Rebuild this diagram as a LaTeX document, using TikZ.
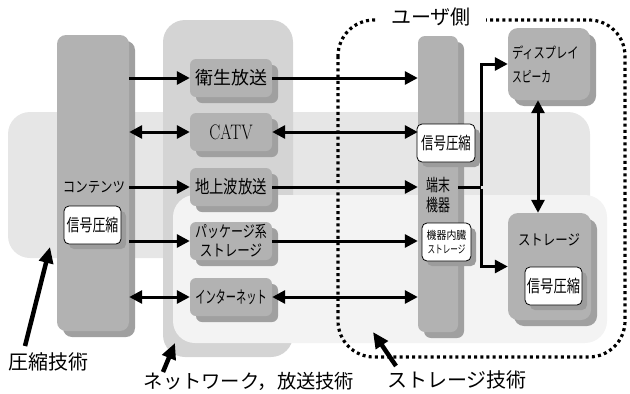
\documentclass[tikz,border=0pt]{standalone}
\usepackage{fontspec}
\usepackage{graphicx}
\newfontfamily\jp{Noto Sans CJK JP}
\usetikzlibrary{arrows.meta,shadows}
\definecolor{regA}{HTML}{E6E6E6}
\definecolor{regB}{HTML}{D4D4D4}
\definecolor{regC}{HTML}{F3F3F3}
\definecolor{boxfill}{HTML}{B2B2B2}
\definecolor{boxshadow}{HTML}{A0A0A0}
\definecolor{wshadow}{HTML}{9C9C9C}
\newcommand\hsq[2]{\scalebox{#1}[1]{#2}}
\newcommand\jpf[1]{\jp\fontsize{#1}{#1}\selectfont}
\tikzset{
  gbox/.style={fill=boxfill, rounded corners=6pt, inner sep=0pt,
    drop shadow={shadow xshift=6pt, shadow yshift=-6pt, fill=boxshadow, opacity=1}},
  gbar/.style={gbox, rounded corners=9pt},
  wbox/.style={fill=white, draw=black, line width=0.8pt, rounded corners=5pt, inner sep=0pt,
    drop shadow={shadow xshift=5pt, shadow yshift=-5pt, fill=wshadow, opacity=1}},
  arr/.style={line width=3pt, -{Triangle[length=13pt,width=13pt]}},
  darr/.style={line width=3pt, {Triangle[length=13pt,width=13pt]}-{Triangle[length=13pt,width=13pt]}},
  plain/.style={line width=3pt},
  bigarr/.style={line width=4.5pt, -{Triangle[length=16pt,width=14pt]}},
}
\begin{document}
\begin{tikzpicture}[x=1pt,y=-1pt]
\useasboundingbox (0,0) rectangle (630,394);
% background regions
\fill[regA, rounded corners=22pt] (8,112) rectangle (590,258);
\fill[regB, rounded corners=22pt] (163,20) rectangle (293,357);
\fill[regC, rounded corners=22pt] (173,195) rectangle (607,343);
% user side boundary
\draw[line width=3.2pt, dash pattern=on 3pt off 3.2pt, rounded corners=36pt] (338,20) rectangle (625,357);
\node[fill=white, inner xsep=15pt, inner ysep=2pt, font=\jpf{20}] (user) at (431,17) {ユーザ側};

% contents
\node[gbar, minimum width=72pt, minimum height=296pt] (cont) at (93,183) {};
\node[font=\jpf{15}, inner sep=0pt] (contlbl) at (94,187) {\hsq{0.83}{コンテンツ}};
\node[wbox, minimum width=57pt, minimum height=38pt, font=\jpf{17}] (c1) at (92.5,225) {\hsq{0.76}{信号圧縮}};

% network nodes
\node[gbox, minimum width=82pt, minimum height=38pt, font=\jpf{18}] (n1) at (231,78) {衛生放送};
\node[gbox, minimum width=82pt, minimum height=38pt, font=\fontsize{21}{21}\selectfont] (n2) at (231,132) {\hsq{0.78}{CATV}};
\node[gbox, minimum width=82pt, minimum height=38pt, font=\jpf{18}] (n3) at (231,187) {\hsq{0.8}{地上波放送}};
\node[gbox, minimum width=82pt, minimum height=38pt, font=\jp\fontsize{16}{19}\selectfont, align=center] (n4) at (231,241) {\hsq{0.75}{パッケージ系}\\\hsq{0.78}{ストレージ}};
\node[gbox, minimum width=82pt, minimum height=38pt, font=\jpf{17}] (n5) at (231,297) {\hsq{0.6}{インターネット}};

% terminal
\node[gbox, rounded corners=7pt, minimum width=40pt, minimum height=296pt] (term) at (438,184) {};
\node[wbox, minimum width=58pt, minimum height=38pt, font=\jpf{17}] (t1) at (446,143) {\hsq{0.73}{信号圧縮}};
\node[font=\jp\fontsize{17}{20}\selectfont, align=center, inner sep=0pt] (tlbl) at (438,195) {\hsq{0.7}{端末}\\\hsq{0.7}{機器}};
\node[wbox, minimum width=49pt, minimum height=38pt, font=\jp\fontsize{11}{14}\selectfont, align=center] (t2) at (446.5,242) {\hsq{0.9}{機器内臓}\\\hsq{0.69}{ストレージ}};

% display & storage
\node[gbox, rounded corners=10pt, minimum width=82pt, minimum height=72pt, text width=74pt, align=left, font=\jp\fontsize{15}{24}\selectfont] (disp) at (549,64) {\hsq{0.75}{ディスプレイ}\\\hsq{0.65}{スピーカ}};
\node[gbox, rounded corners=10pt, minimum width=83pt, minimum height=107pt] (stor) at (549.5,266.5) {};
\node[font=\jpf{15}, inner sep=0pt] (storlbl) at (549,240) {\hsq{0.83}{ストレージ}};
\node[wbox, minimum width=57pt, minimum height=38pt, font=\jpf{17}] (s1) at (553.5,286) {\hsq{0.78}{信号圧縮}};

% contents -> network
\draw[arr] (cont.east |- n1.west) -- (n1.west);
\draw[darr] (cont.east |- n2.west) -- (n2.west);
\draw[arr] (cont.east |- n3.west) -- (n3.west);
\draw[arr] (cont.east |- n4.west) -- (n4.west);
\draw[darr] (cont.east |- n5.west) -- (n5.west);
% network -> terminal
\draw[arr] (n1.east) -- (n1.east -| term.west);
\draw[darr] (n2.east) -- (n2.east -| term.west);
\draw[arr] (n3.east) -- (n3.east -| term.west);
\draw[arr] (n4.east) -- (n4.east -| term.west);
\draw[darr] (n5.east) -- (n5.east -| term.west);
% terminal -> display / storage
\coordinate (jn) at (481,187);
\draw[plain] (term.east |- jn) -- (jn);
\draw[arr] ([yshift=1.5pt]jn) |- (disp.west);
\draw[arr] ([yshift=-1.5pt]jn) |- (stor.west);
\draw[darr] ([xshift=-11pt]disp.south) -- ([xshift=-11pt]disp.south |- stor.north);

% bottom labels
\node[font=\jpf{20}, inner sep=0pt] (lab1) at (49,362) {圧縮技術};
\node[font=\jpf{19.3}, inner sep=0pt] (lab2) at (249,381) {ネットワーク，放送技術};
\node[font=\jpf{20}, inner sep=0pt] (lab3) at (457,380) {ストレージ技術};
\coordinate (p1) at (50,247);
\coordinate (p2) at (175,343);
\coordinate (p3) at (373,332);
\draw[bigarr] (25,346) -- (p1);
\draw[bigarr] (163,372) -- (p2);
\draw[bigarr] (396,366) -- (p3);
\end{tikzpicture}
\end{document}
